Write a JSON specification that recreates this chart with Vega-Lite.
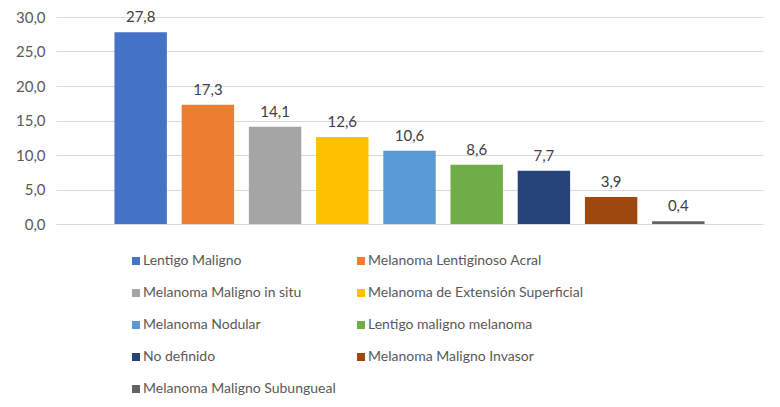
{
  "$schema": "https://vega.github.io/schema/vega-lite/v6.json",
  "autosize": {"type": "none"},
  "width": 707,
  "height": 207,
  "padding": {"left": 56, "top": 17, "right": 17, "bottom": 183},
  "background": "white",
  "config": {
    "locale": {"number": {"decimal": ",", "thousands": ".", "grouping": [3], "currency": ["", " €"]}},
    "font": "Lato",
    "view": {"stroke": null}
  },
  "data": {
    "values": [
      {"tipo": "Lentigo Maligno", "pct": 27.8},
      {"tipo": "Melanoma Lentiginoso Acral", "pct": 17.3},
      {"tipo": "Melanoma Maligno in situ", "pct": 14.1},
      {"tipo": "Melanoma de Extensión Superficial", "pct": 12.6},
      {"tipo": "Melanoma Nodular", "pct": 10.6},
      {"tipo": "Lentigo maligno melanoma", "pct": 8.6},
      {"tipo": "No definido", "pct": 7.7},
      {"tipo": "Melanoma Maligno Invasor", "pct": 3.9},
      {"tipo": "Melanoma Maligno Subungueal", "pct": 0.4}
    ]
  },
  "encoding": {
    "x": {
      "field": "tipo",
      "type": "nominal",
      "sort": null,
      "scale": {"paddingInner": 0.22, "paddingOuter": 0.87},
      "axis": null
    },
    "y": {
      "field": "pct",
      "type": "quantitative",
      "scale": {"domain": [0, 30], "nice": false},
      "axis": {
        "values": [0, 5, 10, 15, 20, 25, 30],
        "format": ".1f",
        "title": null,
        "domain": false,
        "ticks": false,
        "labelPadding": 11,
        "labelFontSize": 15,
        "labelColor": "#595959",
        "gridColor": "#d9d9d9",
        "gridWidth": 1
      }
    }
  },
  "layer": [
    {
      "mark": {"type": "bar"},
      "encoding": {
        "color": {
          "field": "tipo",
          "type": "nominal",
          "sort": null,
          "scale": {
            "domain": ["Lentigo Maligno", "Melanoma Lentiginoso Acral", "Melanoma Maligno in situ", "Melanoma de Extensión Superficial", "Melanoma Nodular", "Lentigo maligno melanoma", "No definido", "Melanoma Maligno Invasor", "Melanoma Maligno Subungueal"],
            "range": ["#4472C4", "#ED7D31", "#A5A5A5", "#FFC000", "#5B9BD5", "#70AD47", "#264478", "#9E480E", "#636363"]
          },
          "legend": {
            "title": null,
            "orient": "none",
            "legendX": 73,
            "legendY": 237,
            "direction": "horizontal",
            "columns": 2,
            "gridAlign": "each",
            "columnPadding": 18,
            "rowPadding": 18,
            "symbolType": "square",
            "symbolSize": 64,
            "symbolStrokeWidth": 0,
            "labelFontSize": 14,
            "labelColor": "#595959",
            "labelOffset": 0,
            "labelLimit": 400
          }
        }
      }
    },
    {
      "mark": {"type": "text", "baseline": "bottom", "dy": -7, "fontSize": 15, "color": "#404040"},
      "encoding": {
        "text": {"field": "pct", "type": "quantitative", "format": ".1f"}
      }
    }
  ]
}
